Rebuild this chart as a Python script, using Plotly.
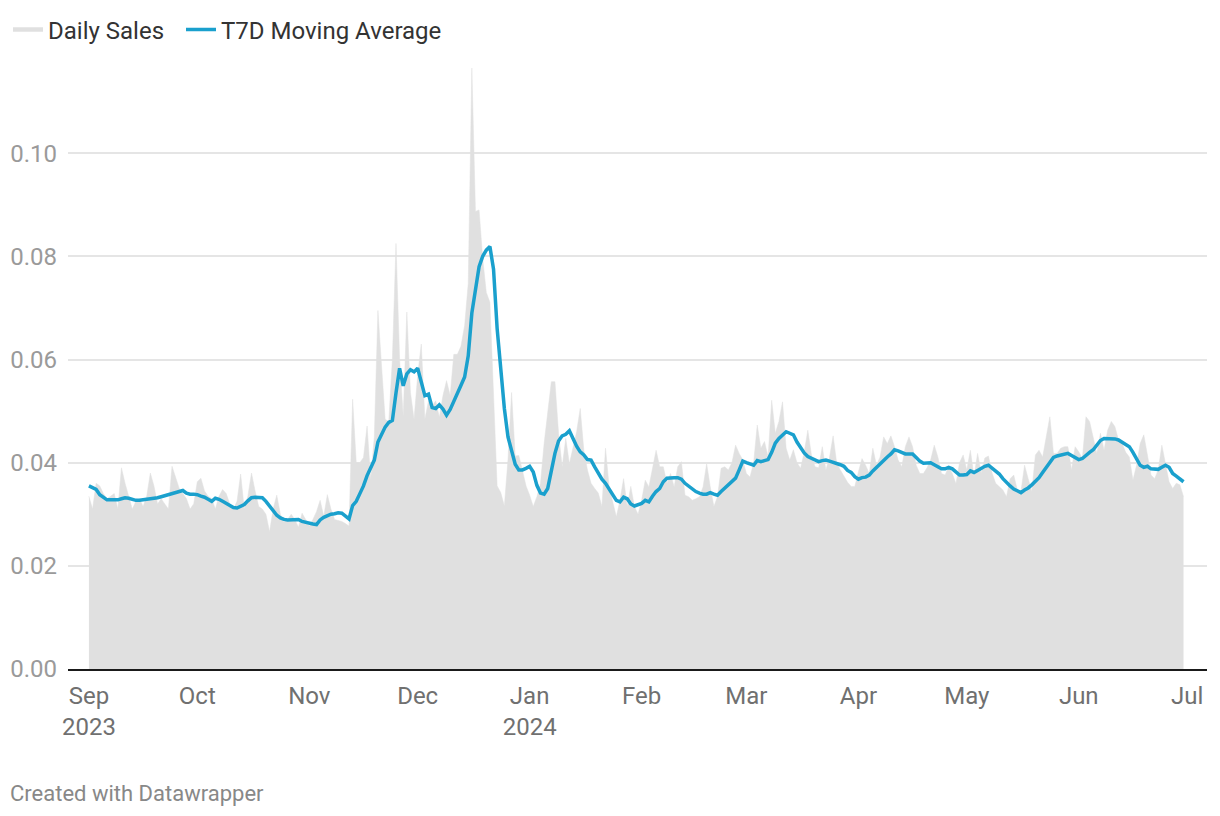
import pandas as pd
import plotly.graph_objects as go

# ---- data ----
sep_sales = [0.0335, 0.031, 0.036, 0.0355, 0.034, 0.033, 0.0335, 0.034, 0.031, 0.039,
             0.036, 0.0335, 0.031, 0.0325, 0.033, 0.0315, 0.0335, 0.038, 0.0355, 0.032,
             0.033, 0.032, 0.031, 0.0393, 0.037, 0.035, 0.034, 0.033, 0.031, 0.032]
oct_sales = [0.0363, 0.037, 0.0345, 0.0335, 0.033, 0.031, 0.0335, 0.0348, 0.034, 0.032,
             0.031, 0.0325, 0.0378, 0.031, 0.0335, 0.038, 0.0345, 0.0315, 0.031, 0.030,
             0.0266, 0.031, 0.0337, 0.030, 0.0285, 0.029, 0.030, 0.029, 0.0275, 0.0302,
             0.029]
nov_sales = [0.0277, 0.029, 0.0305, 0.0327, 0.0296, 0.0338, 0.031, 0.029, 0.0288, 0.0286,
             0.0282, 0.0277, 0.0523, 0.040, 0.040, 0.041, 0.0471, 0.0368, 0.045, 0.0695,
             0.0588, 0.0484, 0.048, 0.060, 0.0825, 0.0601, 0.049, 0.0692, 0.0536, 0.0484]
dec_sales = [0.0569, 0.063, 0.0484, 0.052, 0.051, 0.052, 0.0488, 0.053, 0.0559, 0.053,
             0.061, 0.061, 0.0626, 0.0666, 0.0748, 0.1165, 0.0887, 0.089, 0.0796, 0.073,
             0.0711, 0.0536, 0.0355, 0.0342, 0.0316, 0.0406, 0.0536, 0.0413, 0.0414, 0.0385,
             0.0355]
jan_sales = [0.0337, 0.0315, 0.0334, 0.036, 0.0437, 0.050, 0.0557, 0.0557, 0.0457, 0.0392,
             0.0447, 0.0398, 0.043, 0.046, 0.0505, 0.0424, 0.0386, 0.036, 0.035, 0.0341,
             0.0315, 0.0428, 0.0353, 0.0321, 0.0295, 0.0327, 0.0369, 0.0315, 0.0354, 0.0315,
             0.030]
feb_sales = [0.0327, 0.0366, 0.0353, 0.0386, 0.0424, 0.0392, 0.0392, 0.036, 0.0379, 0.0353,
             0.0392, 0.0402, 0.0337, 0.0334, 0.0327, 0.033, 0.0334, 0.0353, 0.0398, 0.0353,
             0.0315, 0.0334, 0.0389, 0.0392, 0.0386, 0.040, 0.0434, 0.0418, 0.0405]
mar_sales = [0.0379, 0.0372, 0.040, 0.0473, 0.0428, 0.0441, 0.0411, 0.0521, 0.0457, 0.048,
             0.0518, 0.0428, 0.0405, 0.0425, 0.040, 0.0389, 0.042, 0.0463, 0.0415, 0.0392,
             0.039, 0.0431, 0.0386, 0.041, 0.0452, 0.0399, 0.0386, 0.0373, 0.0362, 0.0354,
             0.0354]
apr_sales = [0.0382, 0.0408, 0.0395, 0.0379, 0.0428, 0.0395, 0.0411, 0.045, 0.0437, 0.0452,
             0.0431, 0.0405, 0.0392, 0.0431, 0.045, 0.0431, 0.0395, 0.0379, 0.0379, 0.039,
             0.0405, 0.0434, 0.0411, 0.0379, 0.0376, 0.0392, 0.0379, 0.0359, 0.040, 0.0415]
may_sales = [0.0386, 0.0424, 0.0373, 0.0418, 0.038, 0.0409, 0.0413, 0.038, 0.036, 0.0353,
             0.0347, 0.0334, 0.0369, 0.0376, 0.0347, 0.0344, 0.0395, 0.0369, 0.0344, 0.0415,
             0.0424, 0.0411, 0.045, 0.0489, 0.0418, 0.0418, 0.0428, 0.0431, 0.0431, 0.0386,
             0.0431]
jun_sales = [0.0421, 0.0408, 0.0489, 0.048, 0.045, 0.0418, 0.0457, 0.0424, 0.0463, 0.048,
             0.047, 0.0444, 0.0437, 0.042, 0.0411, 0.0366, 0.0395, 0.0437, 0.0454, 0.0411,
             0.0376, 0.0369, 0.0386, 0.0434, 0.040, 0.0363, 0.035, 0.036, 0.0357, 0.0334]

sep_ma = [0.0355, 0.0352, 0.0348, 0.0338, 0.0332, 0.0328, 0.0328, 0.0328, 0.0328, 0.0330,
          0.0332, 0.0331, 0.0329, 0.0327, 0.0327, 0.0328, 0.0328, 0.0329, 0.0330, 0.0332,
          0.0334, 0.0336, 0.0338, 0.0339, 0.0341, 0.0343, 0.0346, 0.0341, 0.0339, 0.0339]
oct_ma = [0.0338, 0.0335, 0.0333, 0.0329, 0.0325, 0.0331, 0.0329, 0.0325, 0.0321, 0.0316,
          0.0313, 0.0312, 0.0316, 0.0319, 0.0326, 0.0332, 0.0333, 0.0333, 0.0332, 0.0325,
          0.0316, 0.0306, 0.0298, 0.0293, 0.0290, 0.0289, 0.0289, 0.0289, 0.0290, 0.0286,
          0.0284]
nov_ma = [0.0283, 0.0281, 0.0280, 0.0289, 0.0294, 0.0297, 0.0300, 0.0301, 0.0303, 0.0302,
          0.0296, 0.0291, 0.0317, 0.0325, 0.0340, 0.0355, 0.0375, 0.0392, 0.0405, 0.0440,
          0.0455, 0.0469, 0.0478, 0.0482, 0.0535, 0.0583, 0.0549, 0.0572, 0.0580, 0.0576]
dec_ma = [0.0583, 0.0557, 0.0530, 0.0533, 0.0507, 0.0505, 0.0512, 0.0504, 0.0492, 0.0503,
          0.0520, 0.0533, 0.0550, 0.0566, 0.0607, 0.0690, 0.0737, 0.0780, 0.0800, 0.0812,
          0.0819, 0.0775, 0.0660, 0.0585, 0.0505, 0.0450, 0.0420, 0.0397, 0.0386, 0.0386,
          0.0389]
jan_ma = [0.0393, 0.0382, 0.0356, 0.0341, 0.0339, 0.0350, 0.0383, 0.0418, 0.0442, 0.0452,
          0.0455, 0.0462, 0.0447, 0.0432, 0.0421, 0.0415, 0.0406, 0.0405, 0.0392, 0.0379,
          0.0368, 0.0360, 0.0348, 0.0337, 0.0327, 0.0324, 0.0333, 0.0330, 0.0320, 0.0316,
          0.0318]
feb_ma = [0.0321, 0.0327, 0.0324, 0.0335, 0.0344, 0.0350, 0.0363, 0.0370, 0.0371, 0.0371,
          0.0371, 0.0368, 0.0360, 0.0354, 0.0350, 0.0344, 0.0341, 0.0339, 0.0339, 0.0342,
          0.0339, 0.0337, 0.0344, 0.0350, 0.0358, 0.0363, 0.0370, 0.0386, 0.0403]
mar_ma = [0.0400, 0.0397, 0.0395, 0.0404, 0.0402, 0.0404, 0.0406, 0.0420, 0.0438, 0.0447,
          0.0454, 0.0460, 0.0457, 0.0454, 0.0440, 0.0428, 0.0419, 0.0412, 0.0409, 0.0406,
          0.0402, 0.0404, 0.0405, 0.0403, 0.0401, 0.0398, 0.0396, 0.0393, 0.0385, 0.0381,
          0.0373]
apr_ma = [0.0368, 0.0371, 0.0372, 0.0376, 0.0384, 0.0391, 0.0399, 0.0404, 0.0411, 0.0417,
          0.0425, 0.0423, 0.0420, 0.0417, 0.0417, 0.0417, 0.0410, 0.0403, 0.0399, 0.0400,
          0.0400, 0.0396, 0.0392, 0.0388, 0.0388, 0.0391, 0.0388, 0.0382, 0.0376, 0.0376]
may_ma = [0.0377, 0.0384, 0.0381, 0.0385, 0.0389, 0.0393, 0.0395, 0.0390, 0.0383, 0.0378,
          0.0369, 0.0361, 0.0355, 0.0349, 0.0345, 0.0342, 0.0347, 0.0351, 0.0357, 0.0363,
          0.0371, 0.0381, 0.0391, 0.0402, 0.0410, 0.0413, 0.0415, 0.0416, 0.0418, 0.0414,
          0.0409]
jun_ma = [0.0406, 0.0408, 0.0415, 0.0420, 0.0425, 0.0434, 0.0443, 0.0447, 0.0447, 0.0446,
          0.0446, 0.0444, 0.0440, 0.0435, 0.0431, 0.0420, 0.0408, 0.0395, 0.0391, 0.0393,
          0.0388, 0.0387, 0.0387, 0.0391, 0.0395, 0.0391, 0.0379, 0.0374, 0.0369, 0.0363]

start_date = "2023-09-01"
tick_dates = ["2023-09-01", "2023-10-01", "2023-11-01", "2023-12-01", "2024-01-01",
              "2024-02-01", "2024-03-01", "2024-04-01", "2024-05-01", "2024-06-01",
              "2024-07-01"]
tick_labels = ["Sep<br>2023", "Oct", "Nov", "Dec", "Jan<br>2024", "Feb", "Mar", "Apr",
               "May", "Jun", "Jul"]
y_ticks = [0.0, 0.02, 0.04, 0.06, 0.08, 0.10]

daily_sales = (sep_sales + oct_sales + nov_sales + dec_sales + jan_sales + feb_sales +
               mar_sales + apr_sales + may_sales + jun_sales)
moving_avg = (sep_ma + oct_ma + nov_ma + dec_ma + jan_ma + feb_ma +
              mar_ma + apr_ma + may_ma + jun_ma)
dates = pd.date_range(start_date, periods=len(daily_sales), freq="D")

GRAY = "#e0e0e0"
BLUE = "#1aa0cd"
FONT = "Roboto"

# the page body has an 8px margin, so the figure is 8px smaller and offset
W, H = 1212, 808
L, R, T, B = 60, 13, 42, 147
PW, PH = W - L - R, H - T - B

fig = go.Figure()
fig.add_trace(go.Scatter(
    x=dates, y=daily_sales, mode="lines", fill="tozeroy",
    fillcolor=GRAY, line=dict(color=GRAY, width=0.5),
    name="Daily Sales", showlegend=False, hoverinfo="x+y"))
fig.add_trace(go.Scatter(
    x=[None], y=[None], mode="lines", line=dict(color=GRAY, width=4.5),
    name="Daily Sales", showlegend=True, legend="legend"))
fig.add_trace(go.Scatter(
    x=dates, y=moving_avg, mode="lines", line=dict(color=BLUE, width=3.5),
    name="T7D Moving Average", legend="legend2"))

legend_common = dict(orientation="h", xref="container", yref="container",
                     y=1 - 22 / H, xanchor="left", yanchor="middle",
                     font=dict(family=FONT, size=24, color="#333333"),
                     bgcolor="rgba(0,0,0,0)")

fig.update_layout(
    width=W, height=H,
    margin=dict(l=L, r=R, t=T, b=B, autoexpand=False),
    paper_bgcolor="white", plot_bgcolor="white",
    font=dict(family=FONT, size=24, color="#333333"),
    legend=dict(x=0.0, **legend_common),
    legend2=dict(x=173 / W, **legend_common),
    xaxis=dict(
        range=["2023-08-26 05:00", "2024-07-06 12:00"],
        tickvals=tick_dates, ticktext=tick_labels,
        showgrid=False, zeroline=False, automargin=False,
        showline=True, linecolor="#1a1a1a", linewidth=2,
        ticks="", ticklabelstandoff=4,
        tickfont=dict(family=FONT, size=24, color="#707070"),
    ),
    yaxis=dict(
        range=[0, 0.12], tickvals=y_ticks, tickformat=".2f",
        showgrid=True, gridcolor="#e5e5e5", gridwidth=1.5,
        zeroline=False, showline=False, ticks="", automargin=False,
        ticklabelstandoff=10,
        tickfont=dict(family=FONT, size=24, color="#9a9a9a"),
    ),
    annotations=[dict(
        text="Created with Datawrapper", xref="paper", yref="paper",
        x=(0 - L) / PW, y=(669 - 8 - 793 + 8) / PH, xanchor="left", yanchor="middle",
        showarrow=False, font=dict(family=FONT, size=22, color="#888888"))],
    hovermode="x unified",
)

fig.write_html("out.html")
